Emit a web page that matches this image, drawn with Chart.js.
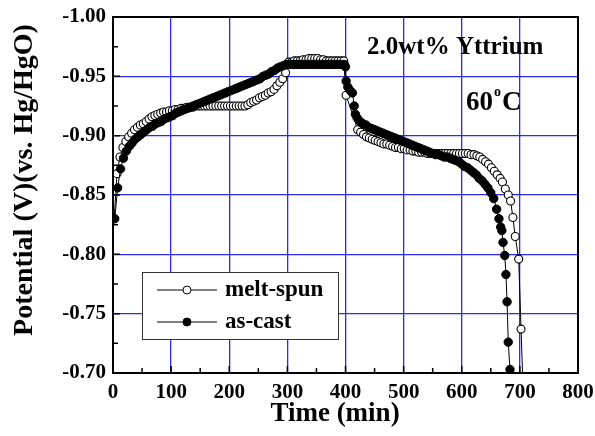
<!DOCTYPE html>
<html><head><meta charset="utf-8">
<script src="https://cdn.jsdelivr.net/npm/chart.js@4/dist/chart.umd.min.js"></script>
<style>html,body{margin:0;padding:0;background:#fff;}#wrap{width:595px;height:436px;position:relative;}</style>
</head><body><div id="wrap"><canvas id="c" width="595" height="436"></canvas></div>
<script>
const seriesNames = ['melt-spun', 'as-cast'];
const meltSpunTime = [2,7,12,17,22,27,32,37,42,47,52,57,62,67,72,77,82,87,92,97,102,107,112,117,122,127,132,137,142,147,152,157,162,167,172,177,182,187,192,197,202,207,212,217,222,227,232,237,242,247,252,257,262,267,272,277,282,287,292,297,302,307,312,317,322,327,332,337,342,347,352,357,362,367,372,377,382,387,392,397,401,421,426,431,436,441,446,451,456,461,466,471,476,481,486,491,496,501,506,511,516,521,526,531,536,541,546,551,556,561,566,571,576,581,586,591,596,601,606,611,616,621,626,631,636,641,646,651,656,661,666,670,675,680,684,688,692,698,702,706];
const meltSpunPotential = [-0.830,-0.868,-0.882,-0.890,-0.895,-0.899,-0.902,-0.905,-0.907,-0.909,-0.910,-0.912,-0.914,-0.916,-0.917,-0.918,-0.919,-0.920,-0.920,-0.921,-0.921,-0.922,-0.922,-0.923,-0.923,-0.924,-0.924,-0.924,-0.925,-0.925,-0.925,-0.925,-0.925,-0.925,-0.925,-0.925,-0.925,-0.925,-0.925,-0.925,-0.925,-0.925,-0.925,-0.925,-0.925,-0.925,-0.926,-0.928,-0.929,-0.930,-0.932,-0.933,-0.934,-0.936,-0.937,-0.939,-0.942,-0.945,-0.948,-0.953,-0.962,-0.962,-0.963,-0.963,-0.963,-0.964,-0.964,-0.965,-0.965,-0.965,-0.965,-0.964,-0.964,-0.963,-0.963,-0.963,-0.963,-0.963,-0.963,-0.963,-0.934,-0.905,-0.903,-0.901,-0.899,-0.898,-0.897,-0.896,-0.895,-0.894,-0.893,-0.893,-0.892,-0.891,-0.890,-0.890,-0.889,-0.889,-0.888,-0.888,-0.887,-0.887,-0.886,-0.886,-0.886,-0.885,-0.885,-0.885,-0.885,-0.885,-0.885,-0.885,-0.885,-0.885,-0.885,-0.885,-0.885,-0.885,-0.885,-0.885,-0.884,-0.884,-0.883,-0.882,-0.880,-0.878,-0.876,-0.873,-0.870,-0.867,-0.864,-0.861,-0.855,-0.850,-0.845,-0.831,-0.815,-0.796,-0.737,-0.680];
const asCastTime = [3,8,13,18,23,28,33,38,43,48,53,58,63,68,73,78,83,88,93,98,103,108,113,118,123,128,133,138,143,148,153,158,163,168,173,178,183,188,193,198,203,208,213,218,223,228,233,238,243,248,253,258,263,268,273,278,283,288,293,298,303,308,313,318,323,328,333,338,343,348,353,358,363,368,373,378,383,388,393,398,400,401,404,408,412,415,417,420,425,430,435,440,445,450,455,460,465,470,475,480,485,490,495,500,505,510,515,520,525,530,535,540,545,550,555,560,565,570,575,580,585,590,595,600,605,610,615,620,625,630,635,640,645,650,655,660,664,667,669,671,674,676,678,680,683,685];
const asCastPotential = [-0.830,-0.856,-0.872,-0.881,-0.887,-0.891,-0.894,-0.897,-0.899,-0.901,-0.903,-0.905,-0.907,-0.908,-0.910,-0.911,-0.912,-0.914,-0.915,-0.916,-0.917,-0.919,-0.920,-0.921,-0.922,-0.923,-0.924,-0.925,-0.926,-0.927,-0.928,-0.929,-0.930,-0.931,-0.932,-0.933,-0.934,-0.935,-0.936,-0.937,-0.938,-0.939,-0.940,-0.941,-0.942,-0.943,-0.944,-0.945,-0.946,-0.947,-0.948,-0.950,-0.951,-0.952,-0.954,-0.955,-0.957,-0.958,-0.959,-0.960,-0.960,-0.960,-0.960,-0.960,-0.960,-0.960,-0.960,-0.960,-0.960,-0.960,-0.960,-0.960,-0.960,-0.960,-0.960,-0.960,-0.960,-0.960,-0.960,-0.960,-0.958,-0.946,-0.941,-0.938,-0.936,-0.925,-0.918,-0.915,-0.912,-0.910,-0.909,-0.907,-0.906,-0.905,-0.904,-0.903,-0.902,-0.901,-0.900,-0.899,-0.898,-0.897,-0.896,-0.895,-0.894,-0.893,-0.892,-0.891,-0.890,-0.889,-0.888,-0.887,-0.886,-0.885,-0.884,-0.884,-0.883,-0.882,-0.882,-0.881,-0.880,-0.879,-0.878,-0.876,-0.874,-0.873,-0.871,-0.869,-0.867,-0.864,-0.862,-0.859,-0.856,-0.852,-0.847,-0.838,-0.830,-0.823,-0.820,-0.810,-0.799,-0.783,-0.760,-0.726,-0.703,-0.680];
const xTickLabels = [0,100,200,300,400,500,600,700,800];
const xTickMarks = [50,100,150,200,250,300,350,400,450,500,550,600,650,700,750];
const yTickLabels = [-1.00,-0.95,-0.90,-0.85,-0.80,-0.75,-0.70];
const yTickMarks = [-0.975,-0.95,-0.925,-0.90,-0.875,-0.85,-0.825,-0.80,-0.775,-0.75,-0.725];
const xTitle = 'Time (min)';
const yTitle = 'Potential (V)(vs. Hg/HgO)';
const noteText = '2.0wt% Yttrium';
const tempText = ['60', 'o', 'C'];

const SERIF = "'Liberation Serif','Times New Roman',serif";
const toPoints = (ts, vs) => ts.map((t, i) => ({x: t, y: vs[i]}));

const decor = {
  id: 'decor',
  afterDraw(chart) {
    const {ctx, chartArea: a, scales: {x, y}} = chart;
    ctx.save();
    ctx.strokeStyle = '#000'; ctx.lineWidth = 2;
    ctx.strokeRect(a.left, a.top, a.right - a.left, a.bottom - a.top);
    ctx.lineWidth = 1.5;
    ctx.beginPath();
    xTickMarks.forEach(v => {
      const px = x.getPixelForValue(v);
      const len = (v % 100 === 0) ? 7 : 5;
      ctx.moveTo(px, a.bottom); ctx.lineTo(px, a.bottom - len);
    });
    yTickMarks.forEach(v => {
      const py = y.getPixelForValue(v);
      const major = Math.abs(Math.round(v * 1000) % 50) === 0;
      const len = major ? 7 : 5;
      ctx.moveTo(a.left, py); ctx.lineTo(a.left + len, py);
    });
    ctx.stroke();
    ctx.fillStyle = '#000';
    ctx.font = 'bold 27px ' + SERIF;
    ctx.textAlign = 'center'; ctx.textBaseline = 'middle';
    ctx.fillText(xTitle, 335, 414);
    ctx.save();
    ctx.translate(25, 180); ctx.rotate(-Math.PI / 2);
    ctx.font = 'bold 28px ' + SERIF;
    ctx.fillText(yTitle, 0, 0);
    ctx.restore();
    ctx.textAlign = 'left'; ctx.textBaseline = 'alphabetic';
    ctx.font = 'bold 25px ' + SERIF;
    ctx.fillText(noteText, 367, 54);
    ctx.font = 'bold 27px ' + SERIF;
    ctx.fillText(tempText[0], 466, 110);
    let w = ctx.measureText(tempText[0]).width;
    ctx.font = 'bold 14px ' + SERIF;
    ctx.fillText(tempText[1], 466 + w + 1, 96);
    let w2 = ctx.measureText(tempText[1]).width;
    ctx.font = 'bold 27px ' + SERIF;
    ctx.fillText(tempText[2], 466 + w + w2 + 2, 110);
    const lx = 142, ly = 272, lw = 196, lh = 67;
    ctx.fillStyle = '#fff';
    ctx.fillRect(lx, ly, lw, lh);
    ctx.strokeStyle = '#333'; ctx.lineWidth = 1;
    ctx.strokeRect(lx + 0.5, ly + 0.5, lw, lh);
    const rows = [{y: 290, fill: '#fff'}, {y: 322, fill: '#000'}];
    rows.forEach((r, i) => {
      ctx.strokeStyle = '#000'; ctx.lineWidth = 1;
      ctx.beginPath(); ctx.moveTo(157, r.y); ctx.lineTo(217, r.y); ctx.stroke();
      ctx.beginPath(); ctx.arc(187, r.y, 4, 0, Math.PI * 2);
      ctx.fillStyle = r.fill; ctx.fill(); ctx.stroke();
      ctx.fillStyle = '#000';
      ctx.font = 'bold 23px ' + SERIF;
      ctx.textBaseline = 'middle';
      ctx.fillText(seriesNames[i], 225, r.y);
    });
    ctx.restore();
  }
};

new Chart(document.getElementById('c'), {
  type: 'scatter',
  data: {
    datasets: [
      {
        label: seriesNames[0],
        data: toPoints(meltSpunTime, meltSpunPotential),
        showLine: true, borderColor: '#000', borderWidth: 1,
        pointRadius: 4, pointBorderWidth: 1.1, pointBackgroundColor: '#fff', pointBorderColor: '#000',
        order: 1, clip: 0
      },
      {
        label: seriesNames[1],
        data: toPoints(asCastTime, asCastPotential),
        showLine: true, borderColor: '#000', borderWidth: 1,
        pointRadius: 4.2, pointBorderWidth: 1, pointBackgroundColor: '#000', pointBorderColor: '#000',
        order: 0, clip: 0
      }
    ]
  },
  options: {
    responsive: false, animation: false, devicePixelRatio: 1,
    layout: {padding: {left: 0, right: 17, top: 17, bottom: 0}},
    plugins: {legend: {display: false}, tooltip: {enabled: false}},
    scales: {
      x: {
        type: 'linear', min: 0, max: 800,
        afterFit: s => { s.height = 63; s.paddingLeft = 0; s.paddingRight = 0; },
        afterBuildTicks: s => { s.ticks = xTickLabels.map(v => ({value: v})); },
        ticks: {color: '#000', padding: 7, font: {family: SERIF, size: 21, weight: 'bold'}, callback: v => String(v)},
        grid: {color: '#2a2af0', lineWidth: 1.3, drawTicks: false},
        border: {display: false}
      },
      y: {
        type: 'linear', min: -1.0, max: -0.7, reverse: true,
        afterFit: s => { s.width = 113; s.paddingTop = 0; s.paddingBottom = 0; },
        afterBuildTicks: s => { s.ticks = yTickLabels.map(v => ({value: v})); },
        ticks: {color: '#000', padding: 7, font: {family: SERIF, size: 21, weight: 'bold'}, callback: v => Number(v).toFixed(2)},
        grid: {color: '#2a2af0', lineWidth: 1.3, drawTicks: false},
        border: {display: false}
      }
    }
  },
  plugins: [decor]
});
</script></body></html>
